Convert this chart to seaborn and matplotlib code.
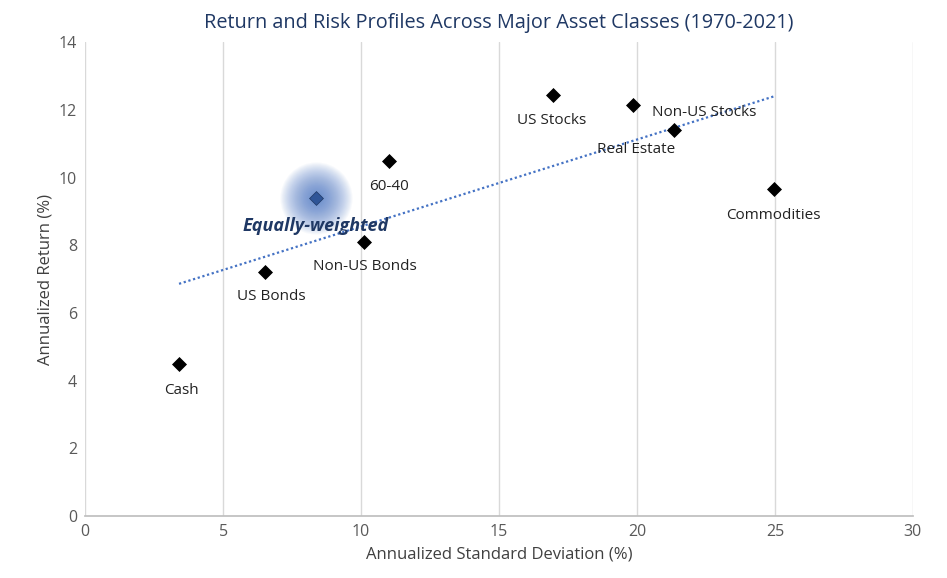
import numpy as np
import pandas as pd
import matplotlib
matplotlib.use("Agg")
import matplotlib.pyplot as plt
import seaborn as sns

# values
assets = ["Cash", "US Bonds", "Non-US Bonds", "60-40", "US Stocks",
          "Non-US Stocks", "Real Estate", "Commodities"]
std_dev = [3.4, 6.5, 10.1, 11.0, 16.95, 19.85, 21.35, 24.95]
returns = [4.5, 7.2, 8.1, 10.5, 12.45, 12.15, 11.4, 9.65]
label_offsets = [(2, -27), (7, -24), (1, -25), (0, -26), (-1, -26),
                 (71, -8), (-38, -19), (0, -26)]

ew_name = "Equally-weighted"
ew_std = 8.35
ew_ret = 9.4

df = pd.DataFrame({"asset": assets, "std": std_dev, "ret": returns})

sns.set_theme(style="white")
plt.rcParams['font.family'] = ['Open Sans', 'DejaVu Sans']

fig, ax = plt.subplots(figsize=(9.47, 5.78), dpi=100)
fig.subplots_adjust(left=0.09, right=0.964, top=0.927, bottom=0.107)

# trend line over all plotted points
all_std = std_dev + [ew_std]
all_ret = returns + [ew_ret]
trend = pd.DataFrame({"std": all_std, "ret": all_ret})
sns.regplot(data=trend, x="std", y="ret", ax=ax, scatter=False, ci=None,
            line_kws=dict(color="#4472C4", lw=1.6, ls=(0, (1, 1.2))))

# soft glow behind the highlighted point (radii spaced evenly -> smooth fade)
for d in np.linspace(52, 4, 32):
    ax.scatter([ew_std], [ew_ret], s=d ** 2, color="#4472C4", alpha=0.04, lw=0, zorder=2)

sns.scatterplot(data=df, x="std", y="ret", ax=ax, marker="D", s=50,
                color="black", edgecolor="black", zorder=4)
ax.scatter([ew_std], [ew_ret], marker="D", s=50, color="#2F5597",
           edgecolor="#1F3864", lw=0.5, zorder=4)

for name, x, y, (dx, dy) in zip(assets, std_dev, returns, label_offsets):
    ax.annotate(name, (x, y), xytext=(dx, dy), textcoords="offset pixels",
                ha="center", va="center", fontsize=11, color="#222222", zorder=5)
ax.annotate(ew_name, (ew_std, ew_ret), xytext=(0, -28), textcoords="offset pixels",
            ha="center", va="center", fontsize=13, color="#1F3864",
            fontweight="bold", fontstyle="italic", zorder=5)

ax.set_xlim(0, 30)
ax.set_ylim(0, 14)
ax.set_xticks(range(0, 31, 5))
ax.set_yticks(range(0, 15, 2))
ax.xaxis.grid(True, color="#D9D9D9", lw=1)
ax.yaxis.grid(False)
for side in ["top", "right", "left"]:
    ax.spines[side].set_visible(False)
ax.spines["bottom"].set_color("#BFBFBF")
ax.tick_params(axis="both", length=0, labelsize=11.5, labelcolor="#595959", pad=6)

ax.set_xlabel("Annualized Standard Deviation (%)", fontsize=12, color="#404040")
ax.set_ylabel("Annualized Return (%)", fontsize=12, color="#404040")
ax.set_title("Return and Risk Profiles Across Major Asset Classes (1970-2021)",
             fontsize=14.3, color="#1F3864", pad=10)

fig.savefig("out.png", dpi=100)
